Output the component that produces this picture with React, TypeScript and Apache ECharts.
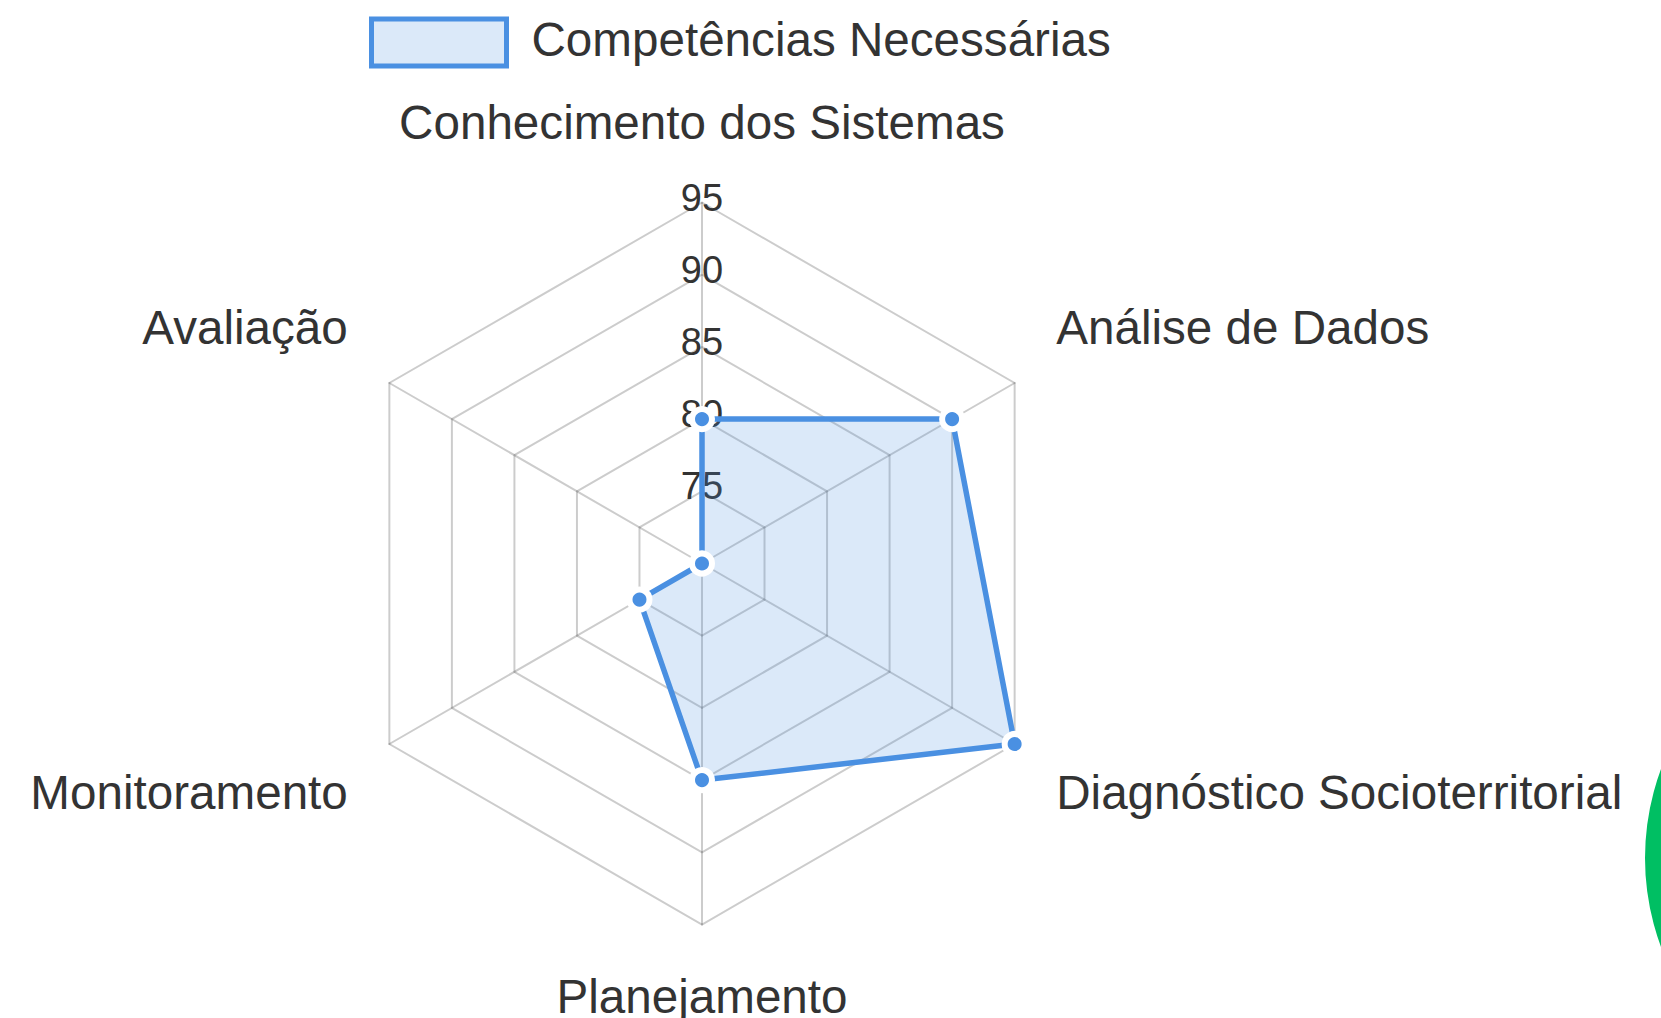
import React, { useEffect, useRef } from "react";
import * as echarts from "echarts";

const categories = [
  "Conhecimento dos Sistemas",
  "Análise de Dados",
  "Diagnóstico Socioterritorial",
  "Planejamento",
  "Monitoramento",
  "Avaliação",
];
const seriesName = "Competências Necessárias";
const values = [80, 90, 95, 85, 75, 70];
const scaleMin = 70;
const scaleMax = 95;
const tickStep = 5;

// label anchoring per category (clockwise order, starting at top)
const nameAligns = [
  { align: "center", verticalAlign: "bottom", lineHeight: 64 },
  { align: "left", verticalAlign: "bottom", lineHeight: 64 },
  { align: "left", verticalAlign: "top", lineHeight: 48 },
  { align: "center", verticalAlign: "top", lineHeight: 48 },
  { align: "right", verticalAlign: "top", lineHeight: 48 },
  { align: "right", verticalAlign: "bottom", lineHeight: 64 },
];

const FONT = "'Liberation Sans', Arial, Helvetica, sans-serif";
const TEXT = "#333333";
const BLUE = "#4a90e2";

export default function App() {
  const ref = useRef<HTMLDivElement>(null);
  useEffect(() => {
    if (!ref.current) return;
    const chart = echarts.init(ref.current, undefined, { renderer: "svg" });
    // ECharts places radar indicators counter-clockwise; reorder to clockwise
    const order = [0, 5, 4, 3, 2, 1];
    const indicator = order.map((i) => {
      const ind: any = {
        name: categories[i],
        min: scaleMin,
        max: scaleMax,
        nameTextStyle: { ...nameAligns[i] },
      };
      if (i === 0) {
        ind.axisLabel = {
          show: true,
          fontSize: 38,
          fontFamily: FONT,
          color: TEXT,
          align: "center",
          verticalAlign: "bottom",
          lineHeight: 10,
          margin: 0,
          formatter: (v: number) => (v === scaleMin ? "" : String(v)),
        };
      }
      return ind;
    });
    const data = order.map((i) => values[i]);
    chart.setOption({
      animation: false,
      backgroundColor: "#ffffff",
      legend: {
        left: 364,
        top: 10,
        itemWidth: 135,
        itemHeight: 47,
        formatter: "{a|{name}}",
        textStyle: {
          fontSize: 47.6,
          fontFamily: FONT,
          color: TEXT,
          padding: [0, 0, 0, 20],
          rich: {
            a: {
              fontSize: 47.6,
              fontFamily: FONT,
              color: TEXT,
              padding: [0, 0, 7, 0],
            },
          },
        },
        data: [
          {
            name: seriesName,
            icon: "rect",
            itemStyle: {
              color: "rgb(219,233,249)",
              borderColor: BLUE,
              borderWidth: 5,
            },
          },
        ],
      },
      radar: {
        center: [702, 563.5],
        radius: 361,
        startAngle: 90,
        shape: "polygon",
        splitNumber: (scaleMax - scaleMin) / tickStep,
        nameGap: 48,
        axisName: {
          color: TEXT,
          fontSize: 47.6,
          fontFamily: FONT,
        },
        axisLabel: { show: false },
        axisTick: { show: false },
        axisLine: { lineStyle: { color: "rgba(0,0,0,0.2)", width: 2 } },
        splitLine: { lineStyle: { color: "rgba(0,0,0,0.2)", width: 2 } },
        splitArea: { show: false },
        indicator,
      },
      series: [
        {
          name: seriesName,
          type: "radar",
          symbol: "circle",
          symbolSize: 20,
          lineStyle: { color: BLUE, width: 5.5 },
          itemStyle: { color: BLUE, borderColor: "#ffffff", borderWidth: 6 },
          areaStyle: { color: "rgba(74,144,226,0.2)", opacity: 1 },
          data: [{ value: data, name: seriesName }],
        },
      ],
      graphic: [
        {
          type: "circle",
          shape: { cx: 1900, cy: 858, r: 255 },
          style: { fill: "#00bf63" },
          z: 100,
        },
      ],
    });
    return () => chart.dispose();
  }, []);
  return (
    <div
      ref={ref}
      style={{ position: "fixed", left: 0, top: 0, width: 1661, height: 1018 }}
    />
  );
}
